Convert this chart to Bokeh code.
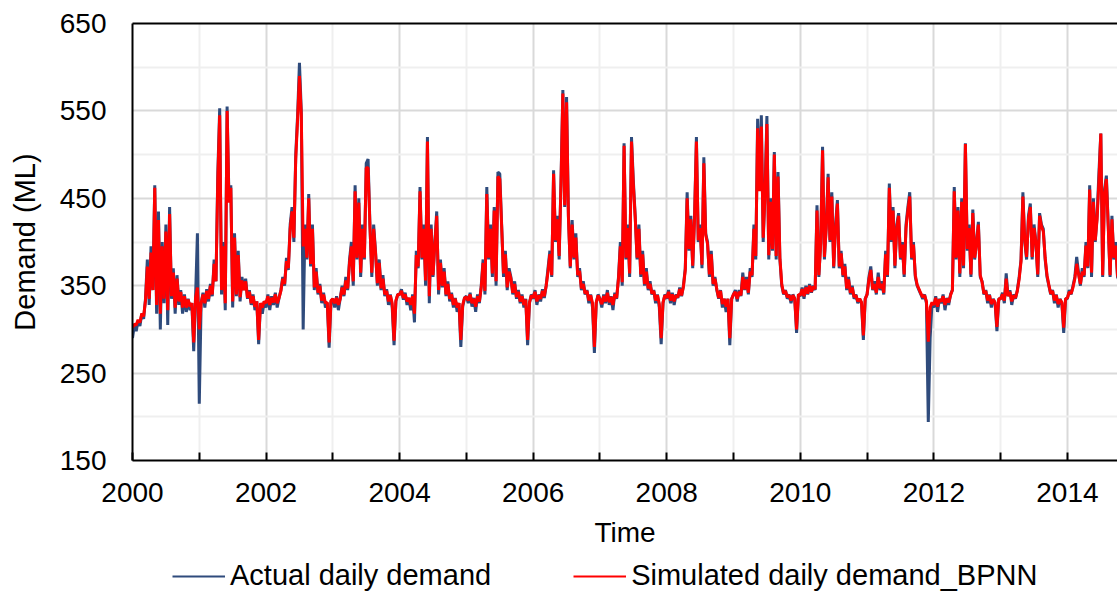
from bokeh.plotting import figure
from bokeh.layouts import column
from bokeh.models import Range1d, FixedTicker, LinearAxis, Legend, LegendItem
from bokeh.embed import file_html
from bokeh.resources import INLINE

# ~10-day samples (36 per year), starting 2000.0
start_year = 2000
points_per_year = 36

actual_demand = [
    # 2000
    290, 305, 298, 310, 304, 318, 312, 335, 380, 328, 395, 345, 465, 318, 435, 300, 400, 330,
    420, 305, 440, 335, 370, 318, 362, 328, 345, 318, 340, 320, 335, 322, 330, 275, 338, 410,
    # 2001
    215, 330, 342, 325, 346, 332, 352, 338, 380, 355, 480, 553, 340, 400, 322, 555, 450, 465,
    325, 410, 338, 390, 332, 360, 345, 358, 335, 345, 328, 340, 322, 332, 283, 330, 318, 332,
    # 2002
    325, 340, 322, 338, 328, 342, 325, 336, 345, 360, 350, 382, 368, 420, 440, 400, 500, 545,
    605, 550, 300, 420, 380, 455, 372, 420, 345, 370, 340, 352, 330, 342, 325, 330, 279, 332,
    # 2003
    335, 325, 338, 322, 336, 350, 338, 360, 345, 380, 400, 350, 465, 380, 450, 360, 420, 380,
    490, 495, 420, 360, 420, 390, 350, 380, 345, 362, 338, 346, 328, 340, 325, 282, 332, 340,
    # 2004
    340, 346, 334, 342, 328, 336, 322, 340, 308, 390, 370, 463, 380, 420, 350, 520, 330, 420,
    360, 400, 435, 340, 380, 348, 370, 338, 355, 332, 342, 325, 336, 320, 330, 280, 326, 336,
    # 2005
    338, 330, 342, 326, 336, 320, 340, 330, 350, 380, 340, 463, 380, 420, 360, 440, 350, 480,
    478, 420, 360, 390, 345, 370, 360, 340, 355, 335, 345, 330, 340, 325, 335, 282, 330, 340,
    # 2006
    335, 345, 328, 340, 332, 346, 336, 350, 370, 390, 360, 482, 400, 430, 380, 470, 574, 440,
    566, 430, 370, 425, 380, 410, 360, 370, 345, 355, 340, 345, 330, 340, 325, 273, 330, 340,
    # 2007
    335, 325, 340, 330, 345, 328, 338, 322, 342, 335, 360, 400, 350, 513, 380, 420, 360, 520,
    470, 430, 380, 420, 360, 390, 350, 370, 345, 355, 340, 345, 330, 340, 325, 283, 330, 340,
    # 2008
    335, 345, 330, 342, 328, 340, 336, 348, 338, 350, 370, 457, 390, 430, 370, 430, 520, 400,
    420, 370, 497, 410, 400, 360, 390, 350, 360, 345, 335, 345, 325, 335, 320, 335, 282, 335,
    # 2009
    340, 345, 332, 345, 338, 365, 345, 360, 340, 370, 360, 420, 380, 541, 460, 545, 400, 460,
    544, 380, 450, 390, 503, 380, 480, 380, 350, 340, 345, 335, 340, 330, 340, 335, 296, 340,
    # 2010
    338, 348, 335, 350, 340, 352, 342, 350, 345, 442, 360, 400, 509, 380, 420, 478, 400, 457,
    370, 420, 448, 370, 390, 360, 375, 345, 360, 340, 350, 335, 340, 330, 335, 330, 288, 335,
    # 2011
    340, 360, 372, 345, 355, 340, 365, 345, 355, 340, 390, 360, 467, 400, 440, 370, 420, 433,
    380, 400, 360, 420, 440, 457, 380, 400, 360, 350, 345, 340, 335, 340, 330, 194, 290, 330,
    # 2012
    325, 338, 320, 335, 330, 340, 322, 336, 328, 340, 345, 463, 380, 440, 360, 450, 370, 513,
    390, 420, 360, 437, 380, 400, 423, 360, 355, 340, 345, 330, 340, 325, 335, 330, 298, 335,
    # 2013
    335, 342, 330, 364, 338, 345, 328, 340, 335, 345, 360, 380, 457, 400, 380, 430, 444, 380,
    420, 400, 360, 433, 420, 415, 380, 360, 350, 340, 345, 330, 340, 325, 335, 330, 296, 335,
    # 2014
    335, 345, 340, 350, 360, 383, 365, 350, 370, 360, 400, 370, 465, 360, 450, 400, 430, 480,
    524, 360, 460, 476, 420, 360, 430, 380, 400, 360, 355,
]

simulated_demand = [
    # 2000
    302, 306, 305, 311, 308, 318, 315, 333, 372, 335, 388, 345, 462, 328, 425, 318, 395, 335,
    412, 322, 432, 338, 365, 325, 358, 332, 343, 325, 338, 325, 334, 326, 330, 285, 336, 348,
    # 2001
    300, 330, 340, 330, 344, 335, 350, 340, 375, 355, 472, 545, 345, 395, 330, 550, 445, 462,
    332, 405, 340, 385, 337, 356, 345, 355, 336, 343, 330, 338, 326, 332, 288, 330, 325, 332,
    # 2002
    330, 338, 328, 336, 331, 340, 330, 336, 344, 358, 352, 378, 370, 415, 435, 405, 495, 540,
    590, 545, 395, 415, 382, 450, 375, 415, 348, 366, 342, 350, 333, 340, 330, 331, 285, 333,
    # 2003
    335, 330, 336, 328, 335, 348, 340, 356, 347, 376, 395, 355, 458, 382, 445, 365, 415, 382,
    485, 485, 418, 365, 415, 388, 353, 376, 347, 358, 340, 344, 332, 339, 330, 287, 333, 340,
    # 2004
    340, 344, 336, 340, 332, 336, 328, 338, 318, 385, 372, 458, 382, 415, 356, 515, 338, 415,
    362, 398, 430, 345, 376, 350, 366, 340, 352, 335, 340, 328, 335, 325, 330, 288, 328, 336,
    # 2005
    337, 333, 340, 330, 335, 326, 338, 332, 348, 376, 344, 455, 382, 415, 364, 436, 355, 475,
    472, 418, 364, 386, 348, 366, 358, 342, 352, 337, 343, 332, 338, 328, 334, 288, 331, 339,
    # 2006
    336, 343, 332, 339, 335, 344, 338, 350, 366, 386, 362, 478, 402, 426, 384, 466, 570, 442,
    560, 428, 372, 420, 382, 405, 362, 367, 347, 352, 341, 344, 333, 339, 330, 280, 331, 339,
    # 2007
    334, 329, 338, 332, 342, 331, 337, 328, 340, 336, 358, 395, 354, 510, 382, 416, 364, 515,
    465, 428, 382, 415, 363, 386, 352, 366, 347, 352, 341, 344, 333, 339, 329, 290, 331, 339,
    # 2008
    336, 343, 333, 340, 332, 339, 337, 346, 339, 349, 368, 450, 392, 426, 373, 427, 515, 402,
    416, 374, 490, 408, 398, 363, 386, 352, 358, 346, 336, 344, 329, 335, 326, 335, 290, 335,
    # 2009
    340, 343, 335, 343, 339, 360, 346, 357, 342, 366, 362, 415, 384, 530, 458, 532, 405, 455,
    535, 385, 446, 392, 500, 384, 475, 382, 352, 341, 344, 337, 339, 333, 339, 335, 300, 340,
    # 2010
    339, 346, 338, 348, 341, 350, 343, 349, 346, 436, 362, 398, 505, 383, 416, 474, 402, 452,
    372, 416, 444, 372, 387, 362, 372, 347, 357, 342, 348, 337, 339, 332, 335, 331, 293, 335,
    # 2011
    340, 357, 368, 346, 352, 342, 360, 347, 352, 342, 386, 362, 462, 402, 436, 373, 416, 430,
    382, 397, 363, 416, 436, 452, 382, 397, 362, 351, 346, 341, 337, 339, 332, 286, 325, 331,
    # 2012
    328, 336, 326, 334, 332, 338, 328, 335, 331, 339, 345, 458, 382, 436, 364, 446, 373, 512,
    392, 416, 363, 433, 382, 398, 420, 362, 354, 341, 344, 333, 339, 329, 334, 331, 303, 335,
    # 2013
    335, 340, 333, 358, 338, 343, 332, 339, 336, 344, 358, 378, 452, 402, 383, 426, 440, 383,
    416, 400, 363, 430, 418, 412, 382, 362, 351, 341, 344, 333, 339, 329, 334, 331, 302, 335,
    # 2014
    336, 343, 341, 348, 358, 375, 363, 352, 366, 362, 396, 372, 460, 365, 446, 402, 426, 470,
    524, 362, 456, 472, 418, 362, 426, 382, 396, 362, 356,
]

year_ticks = [2000, 2002, 2004, 2006, 2008, 2010, 2012, 2014]
year_minor_ticks = [2001, 2003, 2005, 2007, 2009, 2011, 2013]
demand_ticks = [150, 250, 350, 450, 550, 650]
demand_minor_ticks = [200, 300, 400, 500, 600]
legend_labels = ["Actual daily demand", "Simulated daily demand_BPNN"]

x_actual = [start_year + i / points_per_year for i in range(len(actual_demand))]
x_sim = [start_year + i / points_per_year for i in range(len(simulated_demand))]

FONT = "Liberation Sans"
FS = "28px"
NAVY = "#2F4B7C"
RED = "#FF0000"

MAIN_H = 550
p = figure(width=1117, height=MAIN_H, output_backend="svg", toolbar_location=None,
           x_range=Range1d(2000, 2014.75), y_range=Range1d(150, 650),
           min_border_left=132, min_border_right=0, min_border_top=23,
           min_border_bottom=MAIN_H - 461)
p.outline_line_color = None
p.background_fill_color = "white"
p.border_fill_color = "white"

r_act = p.line(x_actual, actual_demand, line_color=NAVY, line_width=3)
r_sim = p.line(x_sim, simulated_demand, line_color=RED, line_width=3)

xa = p.xaxis[0]
xa.ticker = FixedTicker(ticks=year_ticks, minor_ticks=year_minor_ticks)
xa.axis_line_color = "black"
xa.axis_line_width = 2
xa.major_tick_in = 8
xa.major_tick_out = 0
xa.minor_tick_in = 8
xa.minor_tick_out = 0
xa.major_tick_line_width = 2
xa.minor_tick_line_width = 2
xa.major_tick_line_color = "black"
xa.minor_tick_line_color = "black"
xa.major_label_text_font = FONT
xa.major_label_text_font_size = FS
xa.major_label_text_color = "black"
xa.major_label_standoff = 22
xa.axis_label = "Time"
xa.axis_label_text_font = FONT
xa.axis_label_text_font_size = FS
xa.axis_label_text_font_style = "normal"
xa.axis_label_text_color = "black"
xa.axis_label_standoff = 12

ya = p.yaxis[0]
ya.ticker = FixedTicker(ticks=demand_ticks, minor_ticks=demand_minor_ticks)
ya.axis_line_color = "black"
ya.axis_line_width = 2
ya.major_tick_in = 0
ya.major_tick_out = 0
ya.minor_tick_in = 0
ya.minor_tick_out = 0
ya.major_label_text_font = FONT
ya.major_label_text_font_size = FS
ya.major_label_text_color = "black"
ya.major_label_standoff = 26
ya.axis_label = "Demand (ML)"
ya.axis_label_text_font = FONT
ya.axis_label_text_font_size = "29px"
ya.axis_label_text_font_style = "normal"
ya.axis_label_text_color = "black"
ya.axis_label_standoff = 16

top = LinearAxis(ticker=FixedTicker(ticks=[]), axis_line_color="black", axis_line_width=2,
                 major_tick_in=0, major_tick_out=0, minor_tick_in=0, minor_tick_out=0,
                 major_label_text_font_size="0px", major_label_standoff=0)
p.add_layout(top, "above")

for g in (p.xgrid[0], p.ygrid[0]):
    g.grid_line_color = "#d9d9d9"
    g.grid_line_width = 2
    g.minor_grid_line_color = "#efefef"
    g.minor_grid_line_width = 2

# legend strip below the chart (its frame is aligned with the chart frame, x=132)
LEG_H = 592 - MAIN_H
q = figure(width=1117, height=LEG_H, output_backend="svg", toolbar_location=None,
           x_range=Range1d(0, 1), y_range=Range1d(0, 1), x_axis_type=None, y_axis_type=None,
           min_border=0)
q.outline_line_color = None
q.grid.visible = False
q.border_fill_color = "white"
q.background_fill_color = "white"
l_act = q.line([5, 6], [5, 6], line_color=NAVY, line_width=2)
l_sim = q.line([5, 6], [5, 6], line_color=RED, line_width=2)
legend = Legend(items=[LegendItem(label=legend_labels[0], renderers=[l_act]),
                       LegendItem(label=legend_labels[1], renderers=[l_sim])],
                orientation="horizontal", location=(40, 0),
                glyph_width=53, glyph_height=20, label_standoff=5, spacing=82,
                padding=0, margin=0, border_line_color=None, background_fill_alpha=0,
                label_text_font=FONT, label_text_font_size="29px", label_text_color="black")
q.add_layout(legend, "center")

layout = column(p, q, spacing=0)
open("out.html", "w").write(file_html(layout, INLINE))
